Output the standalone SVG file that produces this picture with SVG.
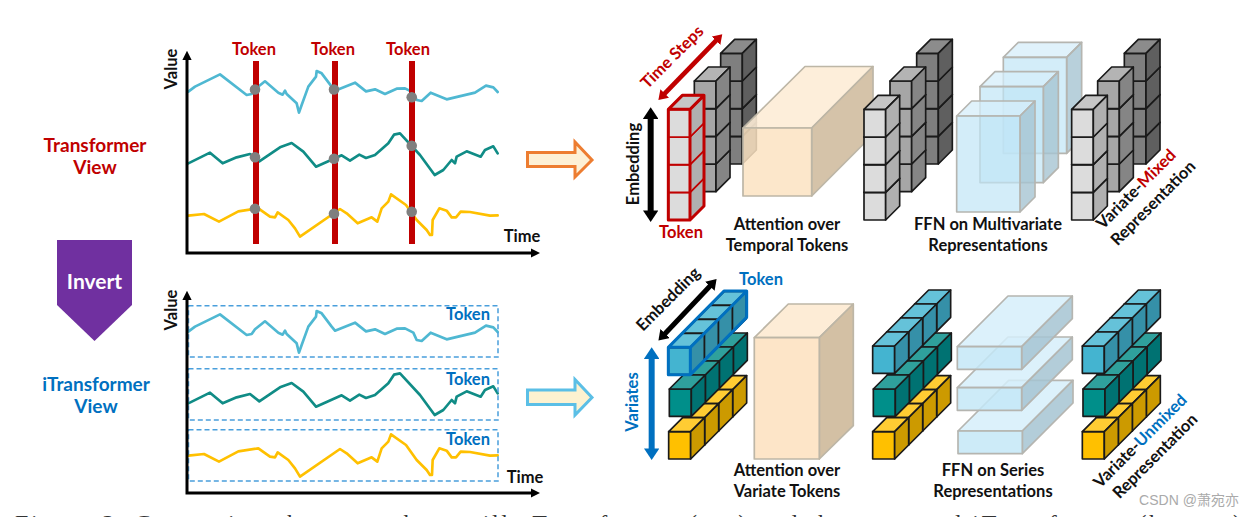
<svg xmlns="http://www.w3.org/2000/svg" xmlns:xlink="http://www.w3.org/1999/xlink" width="1254" height="517" viewBox="0 0 1254 517">
<style>
text{font-family:"Lato","Noto Sans",sans-serif;font-weight:700;text-anchor:middle;fill:#111}
.lbl{font-size:16.5px}
.view{font-size:19px}
.red{fill:#c00000}
.blu{fill:#0070c0}
.line{fill:none;stroke-width:8;stroke-linejoin:round;stroke-linecap:round}
.dash{fill:none;stroke:#4a9fdc;stroke-width:1.5;stroke-dasharray:5 3}
.ax{fill:none;stroke:#000;stroke-width:3}
.bar{fill:#c00000}
.dot{fill:#7f7f7f}
.edge{stroke:#1a1a1a;stroke-width:5;stroke-linejoin:round}
.rededge{stroke:#c00000;stroke-width:5;stroke-linejoin:round}
.ghost{stroke:#b5b5b0;stroke-width:5;stroke-linejoin:round}
</style>
<defs>
<marker id="axh" viewBox="0 0 8 8" refX="2" refY="4" markerWidth="3.2" markerHeight="3.2" orient="auto-start-reverse"><path d="M0,0L8,4L0,8z" fill="#000"/></marker>
<marker id="hr" viewBox="0 0 8 8" refX="1" refY="4" markerWidth="2.6" markerHeight="2.6" orient="auto-start-reverse"><path d="M0,0L6,4L0,8z" fill="#c00000"/></marker>
<marker id="hk" viewBox="0 0 8 8" refX="1" refY="4" markerWidth="2.6" markerHeight="2.6" orient="auto-start-reverse"><path d="M0,0L6,4L0,8z" fill="#000"/></marker>
<marker id="hb" viewBox="0 0 8 8" refX="1" refY="4" markerWidth="2.6" markerHeight="2.6" orient="auto-start-reverse"><path d="M0,0L6,4L0,8z" fill="#0070c0"/></marker>
<polyline id="cb" class="line" stroke="#4fb8d2" points="565,215 585,200 660,163 740,225 755,222 765,208 795,184 835,218 848,224 855,212 860,222 890,250 897,278 905,255 925,200 948,170 950,153 965,160 995,200 1005,212 1065,188 1098,214 1125,208 1155,222 1190,206 1215,205 1240,218 1250,240 1265,243 1292,218 1340,238 1425,218 1458,197 1480,202 1493,216"/>
<polyline id="cg" class="line" stroke="#108c86" points="565,430 630,398 668,430 710,412 750,402 778,424 840,382 875,369 910,395 948,440 1025,406 1050,422 1078,404 1098,414 1125,405 1165,370 1182,344 1200,340 1260,405 1304,465 1330,450 1355,420 1365,430 1370,410 1400,394 1442,410 1455,390 1480,379 1493,400"/>
<polyline id="cy" class="line" stroke="#ffc000" points="565,587 612,582 657,605 715,574 775,565 810,590 825,592 833,577 865,600 885,625 900,650 1020,567 1040,580 1073,610 1115,592 1132,605 1145,565 1165,545 1173,523 1218,555 1250,600 1280,630 1290,645 1296,645 1298,600 1318,565 1340,572 1355,592 1368,592 1382,575 1410,576 1470,587 1493,586"/>
<g id="tl"><path class="edge" fill="#dcdcdc" d="M0,0H65V83H0z"/><path class="edge" fill="#c6c6c6" d="M0,0L42,-42H107L65,0z"/><path class="edge" fill="#b0b0b0" d="M65,0L107,-42V41L65,83z"/></g>
<g id="tm"><path class="edge" fill="#a6a6a6" d="M0,0H65V83H0z"/><path class="edge" fill="#b4b4b4" d="M0,0L42,-42H107L65,0z"/><path class="edge" fill="#858585" d="M65,0L107,-42V41L65,83z"/></g>
<g id="td"><path class="edge" fill="#7f7f7f" d="M0,0H65V83H0z"/><path class="edge" fill="#8c8c8c" d="M0,0L42,-42H107L65,0z"/><path class="edge" fill="#5f5f5f" d="M65,0L107,-42V41L65,83z"/></g>
<g id="tr"><path class="rededge" fill="#dcdcdc" d="M0,0H65V83H0z"/><path class="rededge" fill="#c6c6c6" d="M0,0L42,-42H107L65,0z"/><path class="rededge" fill="#b0b0b0" d="M65,0L107,-42V41L65,83z"/></g>
<g id="towl"><use href="#tl" y="249"/><use href="#tl" y="166"/><use href="#tl" y="83"/><use href="#tl"/></g>
<g id="towm"><use href="#tm" y="249"/><use href="#tm" y="166"/><use href="#tm" y="83"/><use href="#tm"/></g>
<g id="towd"><use href="#td" y="249"/><use href="#td" y="166"/><use href="#td" y="83"/><use href="#td"/></g>
<g id="rb1"><path class="edge" fill="#44b4d0" d="M0,0H66V82H0z"/><path class="edge" fill="#65c2d9" d="M0,0L42,-42H108L66,0z"/><path class="edge" fill="#3590a8" d="M66,0L108,-42V40L66,82z"/></g>
<g id="rg1"><path class="edge" fill="#008f8a" d="M0,0H66V82H0z"/><path class="edge" fill="#2fa09c" d="M0,0L42,-42H108L66,0z"/><path class="edge" fill="#007272" d="M66,0L108,-42V40L66,82z"/></g>
<g id="ry1"><path class="edge" fill="#ffc000" d="M0,0H66V82H0z"/><path class="edge" fill="#ffcc33" d="M0,0L42,-42H108L66,0z"/><path class="edge" fill="#cc9a00" d="M66,0L108,-42V40L66,82z"/></g>
<g id="rb"><use href="#rb1" x="126" y="-126"/><use href="#rb1" x="84" y="-84"/><use href="#rb1" x="42" y="-42"/><use href="#rb1"/></g>
<g id="rg"><use href="#rg1" x="126" y="-126"/><use href="#rg1" x="84" y="-84"/><use href="#rg1" x="42" y="-42"/><use href="#rg1"/></g>
<g id="ry"><use href="#ry1" x="126" y="-126"/><use href="#ry1" x="84" y="-84"/><use href="#ry1" x="42" y="-42"/><use href="#ry1"/></g>
<g id="ffnT"><path class="ghost" fill="#d6eefa" fill-opacity=".75" d="M0,0L45,-45H235L190,0z"/><path class="ghost" fill="#a6c4d2" fill-opacity=".8" d="M190,0L235,-45V243L190,288z"/><path class="ghost" fill="#c0e6f6" fill-opacity=".7" d="M0,0H190V288H0z"/></g>
<g id="ffnB"><path class="ghost" fill="#d6eefa" fill-opacity=".85" d="M0,0L152,-152H345L193,0z"/><path class="ghost" fill="#a6c4d2" fill-opacity=".85" d="M193,0L345,-152V-84L193,68z"/><path class="ghost" fill="#c4e8f7" fill-opacity=".85" d="M0,0H193V68H0z"/></g>
</defs>

<g id="caption"><text x="628" y="531" style="font-family:'Liberation Serif',serif;font-weight:400;font-size:24px;fill:#333" textLength="1226" lengthAdjust="spacing">Figure 2: Comparison between the vanilla Transformer (top) and the proposed iTransformer (bottom)</text></g>

<g id="invert"><path d="M57,240H132V305L94.500,341L57,305z" fill="#7030a0"/><text x="94.500" y="289" style="fill:#fff;font-size:21px">Invert</text></g>
<g id="view-top"><text class="view red" x="95" y="152">Transformer</text><text class="view red" x="95" y="174">View</text></g>
<g id="view-bottom"><text class="view blu" x="96" y="391">iTransformer</text><text class="view blu" x="96" y="413">View</text></g>

<g id="chart-top">
<g transform="translate(0,20) scale(.33333)"><use href="#cb"/><use href="#cg"/><use href="#cy"/></g>
<rect class="bar" x="253" y="61" width="6" height="183"/><rect class="bar" x="332" y="61" width="6" height="183"/><rect class="bar" x="409" y="61" width="6" height="183"/>
<circle class="dot" cx="255" cy="89.500" r="5.300"/><circle class="dot" cx="334" cy="89.500" r="5.300"/><circle class="dot" cx="411.700" cy="97.300" r="5.300"/>
<circle class="dot" cx="255" cy="157.300" r="5.300"/><circle class="dot" cx="334" cy="158.700" r="5.300"/><circle class="dot" cx="411.700" cy="145.700" r="5.300"/>
<circle class="dot" cx="255" cy="208.700" r="5.300"/><circle class="dot" cx="334" cy="213.700" r="5.300"/><circle class="dot" cx="411.700" cy="211.700" r="5.300"/>
<path class="ax" d="M187,58V253H533" marker-start="url(#axh)" marker-end="url(#axh)"/>
<text class="lbl red" x="254" y="55">Token</text><text class="lbl red" x="333" y="55">Token</text><text class="lbl red" x="408" y="55">Token</text>
<text class="lbl" transform="translate(177,69) rotate(-90)">Value</text><text class="lbl" x="522" y="242">Time</text>
</g>

<g id="chart-bottom">
<g transform="translate(0,260) scale(.33333)"><use href="#cb"/><use href="#cg"/><use href="#cy"/></g>
<rect class="dash" x="188.500" y="305.700" width="309.500" height="51.300"/><rect class="dash" x="188.500" y="368.700" width="309.500" height="51.300"/><rect class="dash" x="188.500" y="429.700" width="309.500" height="51.300"/>
<path class="ax" d="M187,298V493H533" marker-start="url(#axh)" marker-end="url(#axh)"/>
<text class="lbl blu" x="468" y="320">Token</text><text class="lbl blu" x="468" y="385">Token</text><text class="lbl blu" x="468" y="445">Token</text>
<text class="lbl" transform="translate(177,310) rotate(-90)">Value</text><text class="lbl" x="525" y="483">Time</text>
</g>

<g id="connectors">
<path d="M527.500,152.500H575V142L592,160L575,177V166.500H527.500z" fill="#fdf0d5" stroke="#ed7d31" stroke-width="3"/>
<path d="M527.500,390H575V379.500L592,397.500L575,415V404.500H527.500z" fill="#fdf2d0" stroke="#5bbfe6" stroke-width="3"/>
</g>

<g id="token-stack-top" transform="translate(520,20) scale(.33333)">
<use href="#towd" x="602" y="100"/><use href="#towm" x="523" y="183"/>
<use href="#tr" x="445" y="517"/><use href="#tr" x="445" y="434"/><use href="#tr" x="445" y="351"/><use href="#tr" x="445" y="268"/>
<path d="M445,268H510V600H445zM510,268L552,226V558L510,600zM445,268L487,226H552L510,268z" fill="none" stroke="#c00000" stroke-width="9" stroke-linejoin="round"/>
<path d="M431,224L591,59" fill="none" stroke="#c00000" stroke-width="14" marker-start="url(#hr)" marker-end="url(#hr)"/>
<path d="M392,291V577" fill="none" stroke="#000" stroke-width="18" marker-start="url(#hk)" marker-end="url(#hk)"/>
</g>
<g id="attn-top"><g transform="translate(743,128)" stroke="#bdb6a6" stroke-width="1.700" stroke-linejoin="round"><path d="M0,0L62,-61.500H130L68.700,0z" fill="#fdecd6" fill-opacity=".9"/><path d="M68.700,0L130,-61.500V6.500L68.700,68z" fill="#d3c0a4" fill-opacity=".95"/><path d="M0,0H68.700V68H0z" fill="#fbe3c2" fill-opacity=".85"/></g></g>
<g id="labels-top-left">
<text class="lbl red" transform="translate(676,61) rotate(-45)">Time Steps</text>
<text class="lbl" transform="translate(639,164) rotate(-90)">Embedding</text>
<text class="lbl red" x="681" y="238">Token</text>
<text class="lbl" x="787" y="230">Attention over</text><text class="lbl" x="787" y="251">Temporal Tokens</text>
</g>
<g id="repr-top-1" transform="translate(850,20) scale(.33333)"><use href="#towd" x="200" y="100"/><use href="#towm" x="120" y="183"/><use href="#towl" x="42" y="268"/></g>
<g id="ffn-top" transform="translate(850,20) scale(.33333)"><use href="#ffnT" x="460" y="112"/><use href="#ffnT" x="390" y="200"/><use href="#ffnT" x="320" y="288"/></g>
<g id="repr-top-2" transform="translate(850,20) scale(.33333)"><use href="#towd" x="823" y="100"/><use href="#towm" x="743" y="183"/><use href="#towl" x="665" y="268"/></g>
<g id="labels-top-right">
<text class="lbl" x="988" y="230">FFN on Multivariate</text><text class="lbl" x="988" y="251">Representations</text>
<text class="lbl" transform="translate(1140,193) rotate(-45)">Variate-<tspan class="red">Mixed</tspan></text>
<text class="lbl" transform="translate(1157,207) rotate(-45)">Representation</text>
</g>

<g id="token-stack-bottom" transform="translate(520,265) scale(.33333)">
<use href="#ry" x="446" y="500"/><use href="#rg" x="448" y="372"/><use href="#rb" x="445" y="247"/>
<path d="M445,247V329H511L680,157V78H612zM445,247H511V329M511,247L680,78" fill="none" stroke="#0070c0" stroke-width="9" stroke-linejoin="round"/>
<path d="M432,209L573,60" fill="none" stroke="#000" stroke-width="15" marker-start="url(#hk)" marker-end="url(#hk)"/>
<path d="M395,276V556" fill="none" stroke="#0070c0" stroke-width="18" marker-start="url(#hb)" marker-end="url(#hb)"/>
</g>
<g id="attn-bottom"><g transform="translate(754.300,337.700)" stroke="#bdb6a6" stroke-width="1.700" stroke-linejoin="round"><path d="M0,0L34,-33.700H99L65,0z" fill="#fdecd6"/><path d="M65,0L99,-33.700V88L65,121.300z" fill="#d3c0a4"/><path d="M0,0H65V121.300H0z" fill="#fde5c8"/></g></g>
<g id="labels-bottom-left">
<text class="lbl" transform="translate(672,303) rotate(-45)">Embedding</text>
<text class="lbl blu" x="761" y="285">Token</text>
<text class="lbl blu" transform="translate(638,402) rotate(-90)">Variates</text>
<text class="lbl" x="787" y="476">Attention over</text><text class="lbl" x="787" y="497">Variate Tokens</text>
</g>
<g id="repr-bottom-1" transform="translate(850,265) scale(.33333)"><use href="#ry" x="68" y="500"/><use href="#rg" x="70" y="372"/><use href="#rb" x="68" y="243"/></g>
<g id="ffn-bottom" transform="translate(850,265) scale(.33333)"><use href="#ffnB" x="324" y="498"/><use href="#ffnB" x="322" y="368"/><use href="#ffnB" x="322" y="245"/></g>
<g id="repr-bottom-2" transform="translate(850,265) scale(.33333)"><use href="#ry" x="697" y="500"/><use href="#rg" x="699" y="372"/><use href="#rb" x="697" y="243"/></g>
<g id="labels-bottom-right">
<text class="lbl" x="993" y="476">FFN on Series</text><text class="lbl" x="993" y="497">Representations</text>
<text class="lbl" transform="translate(1144,445) rotate(-45)">Variate-<tspan class="blu">Unmixed</tspan></text>
<text class="lbl" transform="translate(1159,460) rotate(-45)">Representation</text>
</g>
<g id="watermark"><text x="1189" y="505" style="font-family:'Liberation Sans','Noto Sans CJK SC',sans-serif;font-weight:400;font-size:14px;fill:#aaa">CSDN @萧宛亦</text></g>
</svg>
